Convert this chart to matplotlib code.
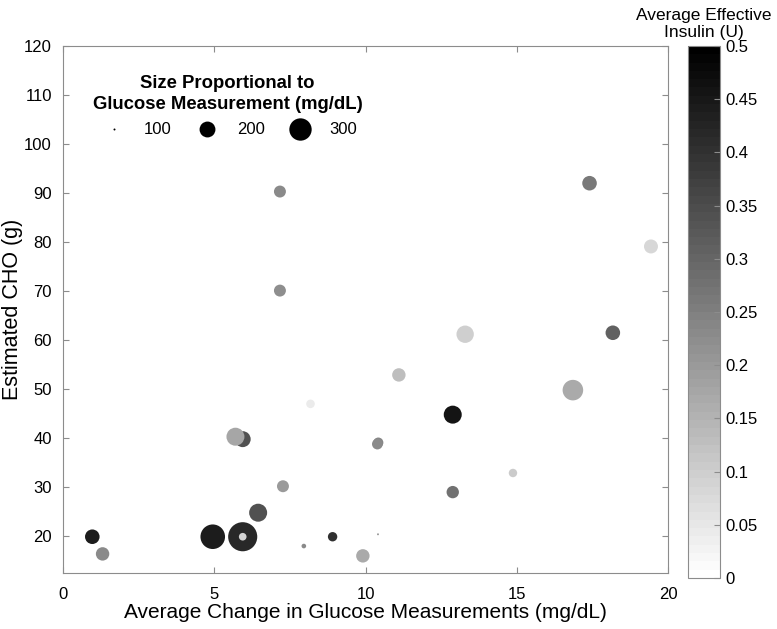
import numpy as np
import matplotlib
matplotlib.use("Agg")
import matplotlib.pyplot as plt
from matplotlib.colors import ListedColormap

plt.rcParams["font.family"] = ["Liberation Sans", "DejaVu Sans"]

# data (drawing order matters for overlaps)
avg_change = [0.97, 1.31, 4.95, 5.94, 5.94, 6.45, 5.94, 5.70, 7.27, 7.17, 7.17,
              8.18, 7.96, 8.91, 9.91, 10.41, 10.42, 10.39, 11.10, 13.29, 12.88,
              12.88, 14.87, 16.85, 17.40, 18.17, 19.43]
est_cho = [19.9, 16.4, 19.9, 19.9, 19.9, 24.8, 39.8, 40.3, 30.2, 90.3, 70.1,
           47.0, 18.0, 19.9, 16.0, 20.4, 39.1, 38.8, 52.9, 61.2, 44.8,
           29.0, 32.9, 49.8, 92.0, 61.5, 79.1]
glucose = [184, 171, 342, 440, 122, 229, 201, 229, 156, 156, 156,
           128, 107, 134, 171, 100, 140, 145, 171, 220, 229,
           160, 127, 269, 184, 184, 177]
insulin = [0.445, 0.233, 0.44, 0.42, 0.09, 0.343, 0.343, 0.176, 0.198, 0.233, 0.225,
           0.045, 0.233, 0.40, 0.17, 0.20, 0.235, 0.23, 0.13, 0.10, 0.46,
           0.28, 0.108, 0.17, 0.26, 0.31, 0.082]

legend_glucose = [100, 200, 300]


def marker_size(g):
    return 1.285 * (np.asarray(g, dtype=float) - 98.4)


cmap = ListedColormap(plt.cm.gray_r(np.linspace(0, 1, 64)))
axis_gray = "#8c8c8c"

fig = plt.figure(figsize=(7.77, 6.29), dpi=100)
ax = fig.add_axes([0.081, 0.089, 0.779, 0.838])
cax = fig.add_axes([0.886, 0.081, 0.040, 0.846])

sc = ax.scatter(avg_change, est_cho, s=marker_size(glucose), c=insulin,
                cmap=cmap, vmin=0, vmax=0.5, linewidths=0, zorder=3)

ax.set_xlim(0, 20)
ax.set_ylim(12.5, 120)
ax.set_xticks(np.arange(0, 21, 5))
ax.set_yticks(np.arange(20, 121, 10))
ax.tick_params(direction="in", top=True, right=True, length=4,
               color=axis_gray, labelsize=12)
ax.tick_params(axis="x", pad=10)
ax.tick_params(axis="y", pad=8)
for sp in ax.spines.values():
    sp.set_color(axis_gray)
ax.set_xlabel("Average Change in Glucose Measurements (mg/dL)", fontsize=15,
              labelpad=1)
ax.set_ylabel("Estimated CHO (g)", fontsize=15.5, labelpad=1)

# size legend
handles = [ax.scatter([], [], s=marker_size(g), c="black", linewidths=0)
           for g in legend_glucose]
leg = ax.legend(handles, [str(g) for g in legend_glucose], ncol=3,
                title="Size Proportional to\nGlucose Measurement (mg/dL)",
                frameon=False, loc="upper left", bbox_to_anchor=(0.038, 0.958),
                fontsize=12, handletextpad=0.8, columnspacing=1.1,
                borderaxespad=0, alignment="center",
                title_fontproperties={"weight": "bold", "size": 13.3})
leg.get_title().set_linespacing(1.35)
leg.get_title().set_multialignment("center")

cb = fig.colorbar(sc, cax=cax)
cb.set_ticks(np.arange(0, 0.501, 0.05))
cb.set_ticklabels(["0", "0.05", "0.1", "0.15", "0.2", "0.25", "0.3",
                   "0.35", "0.4", "0.45", "0.5"])
cb.outline.set_edgecolor(axis_gray)
cax.tick_params(direction="in", length=4, color=axis_gray, labelsize=12, pad=4)
cax.text(0.5, 1.012, "Average Effective\nInsulin (U)", transform=cax.transAxes,
         ha="center", va="bottom", fontsize=12.5, linespacing=1.1)

fig.savefig("out.png", dpi=100)
